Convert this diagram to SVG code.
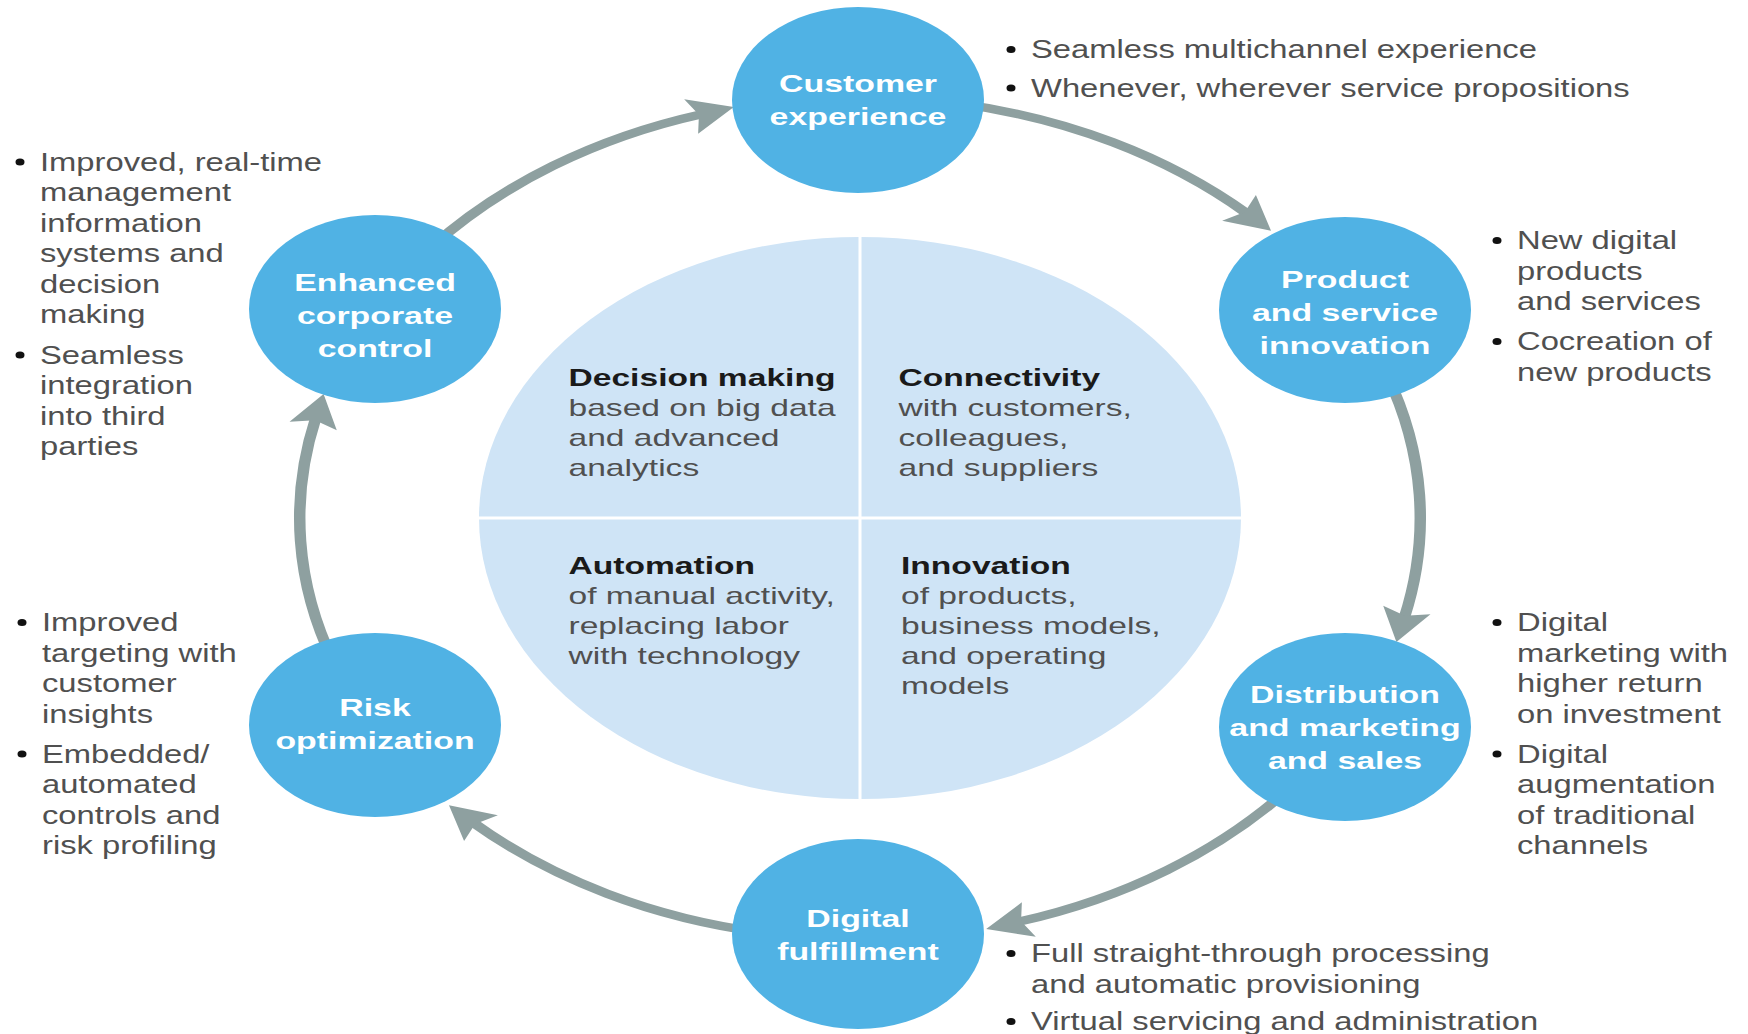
<svg xmlns="http://www.w3.org/2000/svg" width="1748" height="1034" viewBox="0 0 1748 1034">
<defs>
<style>
.node{fill:#50b2e4}
.lbl{font-family:"Liberation Sans",Arial,sans-serif;font-weight:bold;font-size:24px;fill:#ffffff;text-anchor:middle}
.bt{font-family:"Liberation Sans",Arial,sans-serif;font-size:25px;fill:#505050}
.bul{fill:#111111}
.qh{font-family:"Liberation Sans",Arial,sans-serif;font-weight:bold;font-size:24px;fill:#1a1a1a}
.qt{font-family:"Liberation Sans",Arial,sans-serif;font-size:24px;fill:#505050}
.conn{fill:none;stroke:#8ea0a0;stroke-width:8.5;marker-end:url(#ah)}
</style>
<marker id="ah" markerUnits="userSpaceOnUse" markerWidth="40" markerHeight="40" refX="10" refY="20" orient="auto" overflow="visible"><path d="M2,2 L35,20 L2,38 L8,20 z" fill="#8ea0a0"/></marker>
</defs>
<rect width="1748" height="1034" fill="#ffffff"/>

<g id="core">
<ellipse cx="860" cy="518" rx="381" ry="281" fill="#cfe4f6"/>
<line x1="860" y1="237" x2="860" y2="799" stroke="#ffffff" stroke-width="3"/>
<line x1="479" y1="518" x2="1241" y2="518" stroke="#ffffff" stroke-width="3"/>
<text class="qh" transform="matrix(1.40 0 0 1 568.5 386)">Decision making</text>
<text class="qt" transform="matrix(1.40 0 0 1 568.5 416)">based on big data</text>
<text class="qt" transform="matrix(1.40 0 0 1 568.5 446)">and advanced</text>
<text class="qt" transform="matrix(1.40 0 0 1 568.5 476)">analytics</text>
<text class="qh" transform="matrix(1.40 0 0 1 898.5 386)">Connectivity</text>
<text class="qt" transform="matrix(1.40 0 0 1 898.5 416)">with customers,</text>
<text class="qt" transform="matrix(1.40 0 0 1 898.5 446)">colleagues,</text>
<text class="qt" transform="matrix(1.40 0 0 1 898.5 476)">and suppliers</text>
<text class="qh" transform="matrix(1.40 0 0 1 568.5 574)">Automation</text>
<text class="qt" transform="matrix(1.40 0 0 1 568.5 604)">of manual activity,</text>
<text class="qt" transform="matrix(1.40 0 0 1 568.5 634)">replacing labor</text>
<text class="qt" transform="matrix(1.40 0 0 1 568.5 664)">with technology</text>
<text class="qh" transform="matrix(1.40 0 0 1 901 574)">Innovation</text>
<text class="qt" transform="matrix(1.40 0 0 1 901 604)">of products,</text>
<text class="qt" transform="matrix(1.40 0 0 1 901 634)">business models,</text>
<text class="qt" transform="matrix(1.40 0 0 1 901 664)">and operating</text>
<text class="qt" transform="matrix(1.40 0 0 1 901 694)">models</text>
</g>

<g id="connectors" transform="translate(860,518) scale(1.35,1)">
<path class="conn" d="M-317.9,-270.6 A415,421 0 0 1 -117.4,-403.8"/>
<path class="conn" d="M72.1,-414.6 A415,421 0 0 1 286.5,-304.6"/>
<path class="conn" d="M390.0,-144.0 A415,421 0 0 1 403.2,99.7"/>
<path class="conn" d="M317.9,270.6 A415,421 0 0 1 117.4,403.8"/>
<path class="conn" d="M-72.1,414.6 A415,421 0 0 1 -286.5,304.6"/>
<path class="conn" d="M-390.0,144.0 A415,421 0 0 1 -403.2,-99.7"/>
</g>

<g id="customer-experience">
<ellipse class="node" cx="858" cy="100" rx="126" ry="93"/>
<text class="lbl" transform="matrix(1.41 0 0 1 858 92)">Customer</text>
<text class="lbl" transform="matrix(1.41 0 0 1 858 125)">experience</text>
<ellipse class="bul" cx="1011" cy="49.5" rx="4.5" ry="3.5"/>
<text class="bt" transform="matrix(1.31 0 0 1 1031 58)">Seamless multichannel experience</text>
<ellipse class="bul" cx="1011" cy="88" rx="4.5" ry="3.5"/>
<text class="bt" transform="matrix(1.31 0 0 1 1031 96.5)">Whenever, wherever service propositions</text>
</g>

<g id="product-service-innovation">
<ellipse class="node" cx="1345" cy="310" rx="126" ry="93"/>
<text class="lbl" transform="matrix(1.41 0 0 1 1345 287.5)">Product</text>
<text class="lbl" transform="matrix(1.41 0 0 1 1345 320.5)">and service</text>
<text class="lbl" transform="matrix(1.41 0 0 1 1345 353.5)">innovation</text>
<ellipse class="bul" cx="1497" cy="240.5" rx="4.5" ry="3.5"/>
<text class="bt" transform="matrix(1.31 0 0 1 1517 249)">New digital</text>
<text class="bt" transform="matrix(1.31 0 0 1 1517 279.5)">products</text>
<text class="bt" transform="matrix(1.31 0 0 1 1517 310)">and services</text>
<ellipse class="bul" cx="1497" cy="341.5" rx="4.5" ry="3.5"/>
<text class="bt" transform="matrix(1.31 0 0 1 1517 350)">Cocreation of</text>
<text class="bt" transform="matrix(1.31 0 0 1 1517 380.5)">new products</text>
</g>

<g id="distribution-marketing-sales">
<ellipse class="node" cx="1345" cy="727" rx="126" ry="94"/>
<text class="lbl" transform="matrix(1.41 0 0 1 1345 703)">Distribution</text>
<text class="lbl" transform="matrix(1.41 0 0 1 1345 736)">and marketing</text>
<text class="lbl" transform="matrix(1.41 0 0 1 1345 769)">and sales</text>
<ellipse class="bul" cx="1497" cy="622.5" rx="4.5" ry="3.5"/>
<text class="bt" transform="matrix(1.31 0 0 1 1517 631)">Digital</text>
<text class="bt" transform="matrix(1.31 0 0 1 1517 661.5)">marketing with</text>
<text class="bt" transform="matrix(1.31 0 0 1 1517 692)">higher return</text>
<text class="bt" transform="matrix(1.31 0 0 1 1517 722.5)">on investment</text>
<ellipse class="bul" cx="1497" cy="754" rx="4.5" ry="3.5"/>
<text class="bt" transform="matrix(1.31 0 0 1 1517 762.5)">Digital</text>
<text class="bt" transform="matrix(1.31 0 0 1 1517 793)">augmentation</text>
<text class="bt" transform="matrix(1.31 0 0 1 1517 823.5)">of traditional</text>
<text class="bt" transform="matrix(1.31 0 0 1 1517 854)">channels</text>
</g>

<g id="digital-fulfillment">
<ellipse class="node" cx="858" cy="934" rx="126" ry="95"/>
<text class="lbl" transform="matrix(1.41 0 0 1 858 927)">Digital</text>
<text class="lbl" transform="matrix(1.41 0 0 1 858 960)">fulfillment</text>
<ellipse class="bul" cx="1011" cy="953.5" rx="4.5" ry="3.5"/>
<text class="bt" transform="matrix(1.31 0 0 1 1031 962)">Full straight-through processing</text>
<text class="bt" transform="matrix(1.31 0 0 1 1031 992.5)">and automatic provisioning</text>
<ellipse class="bul" cx="1011" cy="1021.5" rx="4.5" ry="3.5"/>
<text class="bt" transform="matrix(1.31 0 0 1 1031 1030)">Virtual servicing and administration</text>
</g>

<g id="risk-optimization">
<ellipse class="node" cx="375" cy="725" rx="126" ry="92"/>
<text class="lbl" transform="matrix(1.41 0 0 1 375 715.5)">Risk</text>
<text class="lbl" transform="matrix(1.41 0 0 1 375 748.5)">optimization</text>
<ellipse class="bul" cx="22" cy="622.5" rx="4.5" ry="3.5"/>
<text class="bt" transform="matrix(1.31 0 0 1 42 631)">Improved</text>
<text class="bt" transform="matrix(1.31 0 0 1 42 661.5)">targeting with</text>
<text class="bt" transform="matrix(1.31 0 0 1 42 692)">customer</text>
<text class="bt" transform="matrix(1.31 0 0 1 42 722.5)">insights</text>
<ellipse class="bul" cx="22" cy="754" rx="4.5" ry="3.5"/>
<text class="bt" transform="matrix(1.31 0 0 1 42 762.5)">Embedded/</text>
<text class="bt" transform="matrix(1.31 0 0 1 42 793)">automated</text>
<text class="bt" transform="matrix(1.31 0 0 1 42 823.5)">controls and</text>
<text class="bt" transform="matrix(1.31 0 0 1 42 854)">risk profiling</text>
</g>

<g id="enhanced-corporate-control">
<ellipse class="node" cx="375" cy="309" rx="126" ry="94"/>
<text class="lbl" transform="matrix(1.41 0 0 1 375 290.5)">Enhanced</text>
<text class="lbl" transform="matrix(1.41 0 0 1 375 323.5)">corporate</text>
<text class="lbl" transform="matrix(1.41 0 0 1 375 356.5)">control</text>
<ellipse class="bul" cx="20" cy="162" rx="4.5" ry="3.5"/>
<text class="bt" transform="matrix(1.31 0 0 1 40 170.5)">Improved, real-time</text>
<text class="bt" transform="matrix(1.31 0 0 1 40 201)">management</text>
<text class="bt" transform="matrix(1.31 0 0 1 40 231.5)">information</text>
<text class="bt" transform="matrix(1.31 0 0 1 40 262)">systems and</text>
<text class="bt" transform="matrix(1.31 0 0 1 40 292.5)">decision</text>
<text class="bt" transform="matrix(1.31 0 0 1 40 323)">making</text>
<ellipse class="bul" cx="20" cy="355" rx="4.5" ry="3.5"/>
<text class="bt" transform="matrix(1.31 0 0 1 40 363.5)">Seamless</text>
<text class="bt" transform="matrix(1.31 0 0 1 40 394)">integration</text>
<text class="bt" transform="matrix(1.31 0 0 1 40 424.5)">into third</text>
<text class="bt" transform="matrix(1.31 0 0 1 40 455)">parties</text>
</g>
</svg>
